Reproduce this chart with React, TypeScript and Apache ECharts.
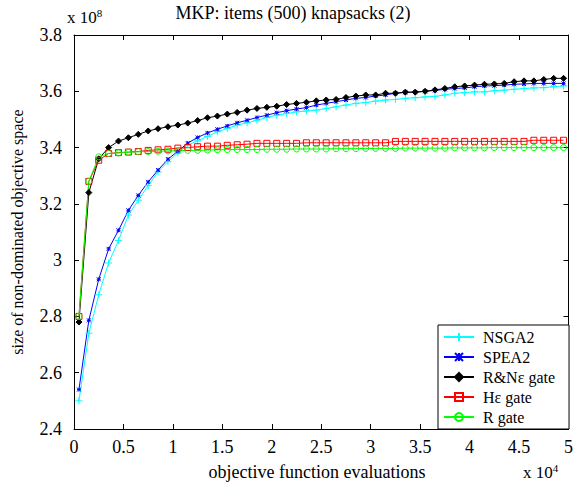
import React, { useEffect, useRef } from "react";
import * as echarts from "echarts";

// x in units of 10^4 evaluations, y in units of 10^8
const evaluations = [
  0.05, 0.15, 0.25, 0.35, 0.45, 0.55, 0.65, 0.75, 0.85, 0.95,
  1.05, 1.15, 1.25, 1.35, 1.45, 1.55, 1.65, 1.75, 1.85, 1.95,
  2.05, 2.15, 2.25, 2.35, 2.45, 2.55, 2.65, 2.75, 2.85, 2.95,
  3.05, 3.15, 3.25, 3.35, 3.45, 3.55, 3.65, 3.75, 3.85, 3.95,
  4.05, 4.15, 4.25, 4.35, 4.45, 4.55, 4.65, 4.75, 4.85, 4.95,
];

const nsga2 = [
  2.5, 2.74, 2.877, 2.99, 3.07, 3.16, 3.213, 3.265, 3.314, 3.35,
  3.381, 3.409, 3.424, 3.44, 3.456, 3.468, 3.48, 3.488, 3.497, 3.507,
  3.515, 3.521, 3.527, 3.53, 3.533, 3.539, 3.545, 3.551, 3.557, 3.56,
  3.565, 3.569, 3.571, 3.575, 3.577, 3.58, 3.582, 3.587, 3.593, 3.595,
  3.598, 3.598, 3.602, 3.604, 3.607, 3.61, 3.612, 3.613, 3.616, 3.619,
];

const spea2 = [
  2.54, 2.786, 2.932, 3.04, 3.106, 3.177, 3.23, 3.278, 3.32, 3.359,
  3.387, 3.416, 3.436, 3.452, 3.465, 3.477, 3.488, 3.497, 3.507, 3.515,
  3.524, 3.531, 3.537, 3.542, 3.551, 3.557, 3.563, 3.569, 3.575, 3.578,
  3.583, 3.587, 3.593, 3.596, 3.597, 3.6, 3.603, 3.607, 3.61, 3.612,
  3.616, 3.619, 3.62, 3.622, 3.625, 3.626, 3.628, 3.628, 3.628, 3.628,
];

const rnGate = [
  2.78, 3.24, 3.36, 3.4, 3.423, 3.435, 3.447, 3.459, 3.467, 3.474,
  3.48, 3.487, 3.496, 3.506, 3.512, 3.519, 3.525, 3.533, 3.539, 3.543,
  3.547, 3.553, 3.557, 3.561, 3.566, 3.569, 3.571, 3.578, 3.583, 3.587,
  3.587, 3.593, 3.593, 3.597, 3.597, 3.6, 3.605, 3.61, 3.616, 3.619,
  3.622, 3.625, 3.626, 3.628, 3.634, 3.637, 3.637, 3.642, 3.646, 3.646,
];

const heGate = [
  2.8, 3.28, 3.355, 3.379, 3.382, 3.384, 3.386, 3.39, 3.392, 3.394,
  3.398, 3.4, 3.403, 3.405, 3.405, 3.408, 3.41, 3.412, 3.415, 3.415,
  3.415, 3.415, 3.415, 3.417, 3.417, 3.417, 3.417, 3.417, 3.417, 3.417,
  3.417, 3.417, 3.422, 3.422, 3.422, 3.422, 3.422, 3.422, 3.422, 3.422,
  3.422, 3.422, 3.422, 3.422, 3.422, 3.422, 3.426, 3.426, 3.426, 3.426,
];

const rGate = [
  2.8, 3.28, 3.367, 3.379, 3.381, 3.383, 3.385, 3.386, 3.387, 3.388,
  3.389, 3.39, 3.39, 3.391, 3.392, 3.393, 3.393, 3.393, 3.393, 3.394,
  3.394, 3.394, 3.395, 3.395, 3.395, 3.395, 3.396, 3.396, 3.396, 3.397,
  3.397, 3.397, 3.397, 3.398, 3.398, 3.398, 3.398, 3.398, 3.399, 3.399,
  3.399, 3.399, 3.4, 3.4, 3.4, 3.4, 3.4, 3.4, 3.4, 3.4,
];

const seriesNames = ["NSGA2", "SPEA2", "R&N\u03b5 gate", "H\u03b5 gate", "R gate"];

const FONT = "Liberation Serif";

export default function App() {
  const ref = useRef<HTMLDivElement>(null);

  useEffect(() => {
    if (!ref.current) return;
    const chart = echarts.init(ref.current, null, { renderer: "svg" });
    const pts = (ys: number[]) => evaluations.map((x, i) => [x, ys[i]]);

    const plus = "path://M5,0L5,10M0,5L10,5";
    const cross = "path://M0,0L10,10M10,0L0,10M5,0L5,10M0,5L10,5";

    const mk = (
      name: string,
      ys: number[],
      color: string,
      symbol: string,
      size: number,
      fill: string
    ) => ({
      name,
      type: "line",
      data: pts(ys),
      symbol,
      symbolSize: size,
      showSymbol: true,
      lineStyle: { color, width: 1 },
      itemStyle: { color: fill, borderColor: color, borderWidth: 1 },
      emphasis: { disabled: true },
      xAxisIndex: 0,
      yAxisIndex: 0,
    });

    const axisCommon = {
      axisLine: { show: true, onZero: false, lineStyle: { color: "#000", width: 1 } },
      axisTick: { show: true, inside: true, length: 5, lineStyle: { color: "#000" } },
      splitLine: { show: false },
    };

    const sup = { s: { fontSize: 11, fontFamily: FONT, padding: [0, 0, 8, 0] } };

    chart.setOption({
      animation: false,
      backgroundColor: "#fff",
      textStyle: { fontFamily: FONT },
      grid: { left: 74, right: 4, top: 35, bottom: 61, containLabel: false },
      xAxis: [
        {
          type: "value",
          min: 0,
          max: 5,
          interval: 0.5,
          position: "bottom",
          ...axisCommon,
          axisLabel: { color: "#000", fontFamily: FONT, fontSize: 18, margin: 9 },
        },
        {
          type: "value",
          min: 0,
          max: 5,
          interval: 0.5,
          position: "top",
          ...axisCommon,
          axisLabel: { show: false },
        },
      ],
      yAxis: [
        {
          type: "value",
          min: 2.4,
          max: 3.8,
          interval: 0.2,
          position: "left",
          ...axisCommon,
          axisLabel: { color: "#000", fontFamily: FONT, fontSize: 18, margin: 12 },
        },
        {
          type: "value",
          min: 2.4,
          max: 3.8,
          interval: 0.2,
          position: "right",
          ...axisCommon,
          axisLabel: { show: false },
        },
      ],
      legend: {
        orient: "vertical",
        left: 438,
        top: 325,
        itemWidth: 30,
        itemHeight: 10,
        itemGap: 4,
        padding: [4, 14, 4, 5],
        borderColor: "#000",
        borderWidth: 1,
        backgroundColor: "#fff",
        formatter: "{t|{name}}",
        textStyle: {
          color: "#000",
          fontFamily: FONT,
          fontSize: 16,
          lineHeight: 14,
          rich: {
            t: { fontFamily: FONT, fontSize: 16, color: "#000", lineHeight: 14, padding: [0, 0, 0, 4] },
          },
        },
        data: seriesNames,
      },
      graphic: [
        {
          type: "text",
          x: 293,
          y: 13,
          style: {
            text: "MKP: items (500) knapsacks (2)",
            font: `18px ${FONT}`,
            fill: "#000",
            align: "center",
            verticalAlign: "middle",
          },
        },
        {
          type: "text",
          x: 67,
          y: 17,
          style: {
            text: "x 10{s|8}",
            font: `17px ${FONT}`,
            fill: "#000",
            verticalAlign: "middle",
            rich: sup,
          },
        },
        {
          type: "text",
          x: 317,
          y: 472,
          style: {
            text: "objective function evaluations",
            font: `18px ${FONT}`,
            fill: "#000",
            align: "center",
            verticalAlign: "middle",
          },
        },
        {
          type: "text",
          x: 523,
          y: 472,
          style: {
            text: "x 10{s|4}",
            font: `17px ${FONT}`,
            fill: "#000",
            verticalAlign: "middle",
            rich: sup,
          },
        },
        {
          type: "text",
          x: 17,
          y: 232,
          rotation: Math.PI / 2,
          style: {
            text: "size of non-dominated objective space",
            font: `16px ${FONT}`,
            fill: "#000",
            align: "center",
            verticalAlign: "middle",
          },
        },
      ],
      series: [
        mk(seriesNames[0], nsga2, "#00ffff", plus, 7, "#00ffff"),
        mk(seriesNames[1], spea2, "#0000ff", cross, 4, "#0000ff"),
        mk(seriesNames[2], rnGate, "#000000", "diamond", 6, "#000000"),
        mk(seriesNames[3], heGate, "#ff0000", "rect", 6, "rgba(255,255,255,0)"),
        mk(seriesNames[4], rGate, "#00ff00", "circle", 6, "rgba(255,255,255,0)"),
      ],
    });

    return () => chart.dispose();
  }, []);

  return <div ref={ref} style={{ width: 576, height: 490, position: "absolute", left: 0, top: 0 }} />;
}
